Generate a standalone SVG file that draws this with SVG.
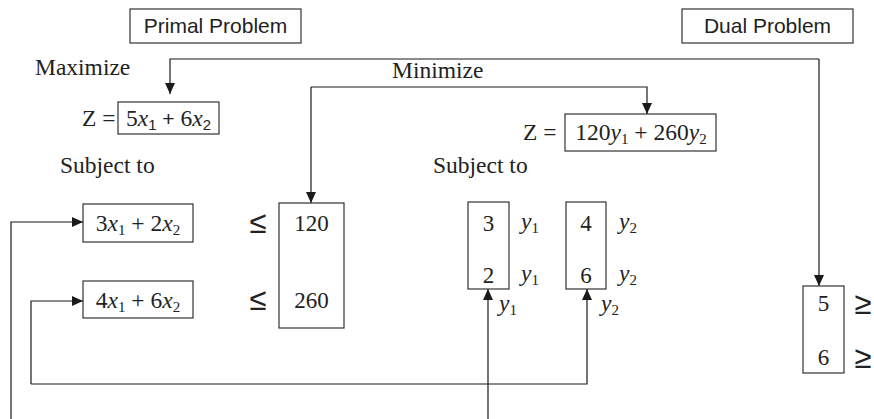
<svg xmlns="http://www.w3.org/2000/svg" width="874" height="419" viewBox="0 0 874 419">
<defs>
<marker id="ah" markerWidth="12" markerHeight="10" refX="11" refY="5" orient="auto" markerUnits="userSpaceOnUse">
<path d="M0,0 L11,5 L0,10 Z" fill="#1a1a1a"/>
</marker>
<style>
.box{fill:#fff;stroke:#333;stroke-width:1.2}
.ln{fill:none;stroke:#1a1a1a;stroke-width:1.2;marker-end:url(#ah)}
.sans{font-family:"Liberation Sans",Arial,sans-serif;font-size:21px;fill:#222}
.ser{font-family:"Liberation Serif","Times New Roman",serif;font-size:23.5px;fill:#222}
.num{font-family:"Liberation Serif","Times New Roman",serif;font-size:23px;fill:#222}
.it{font-style:italic}
.sub{font-size:15px}
.sym{font-family:"Liberation Sans",Arial,sans-serif;font-size:31px;fill:#222}
</style>
</defs>
<rect width="874" height="419" fill="#fff"/>

<g id="connectors">
<path class="ln" d="M819,59 H170 V94"/>
<path class="ln" d="M819,59 V286"/>
<path class="ln" d="M311,87 H647 V114"/>
<path class="ln" d="M311,87 V203"/>
<path class="ln" d="M11,419 V222 H83"/>
<path class="ln" d="M31,384 V301 H83"/>
<path class="ln" d="M31,384 H587 V289"/>
<path class="ln" d="M488,419 V289"/>
</g>

<g id="primal-title">
<rect class="box" x="130" y="9" width="171" height="34"/>
<text class="sans" x="215.5" y="33" text-anchor="middle">Primal Problem</text>
</g>
<g id="dual-title">
<rect class="box" x="682" y="9" width="171" height="34"/>
<text class="sans" x="767.5" y="33" text-anchor="middle">Dual Problem</text>
</g>

<g id="maximize">
<text class="ser" x="35" y="75">Maximize</text>
</g>
<g id="primal-objective">
<text class="ser" x="82" y="126" font-size="20">Z =</text>
<rect class="box" x="118" y="102" width="101" height="32"/>
<text class="ser" x="168.5" y="126" text-anchor="middle">5<tspan class="it">x</tspan><tspan class="sans sub" dy="4">1</tspan><tspan class="sans" font-size="21" dy="-4"> + </tspan>6<tspan class="it">x</tspan><tspan class="sans sub" dy="4">2</tspan></text>
</g>

<g id="minimize">
<text class="ser" x="392" y="78">Minimize</text>
</g>
<g id="dual-objective">
<text class="ser" x="523" y="140" font-size="20">Z =</text>
<rect class="box" x="565" y="114" width="151" height="37"/>
<text class="ser" x="641" y="140" text-anchor="middle">120<tspan class="it">y</tspan><tspan class="sub" dy="4">1</tspan><tspan dy="-4"> + 260</tspan><tspan class="it">y</tspan><tspan class="sub" dy="4">2</tspan></text>
</g>

<g id="subject-left">
<text class="ser" x="60" y="173">Subject to</text>
</g>
<g id="subject-right">
<text class="ser" x="433" y="173">Subject to</text>
</g>

<g id="constraint1">
<rect class="box" x="83" y="204" width="110" height="38"/>
<text class="ser" x="138" y="231" text-anchor="middle">3<tspan class="it">x</tspan><tspan class="sub" dy="4">1</tspan><tspan dy="-4"> + 2</tspan><tspan class="it">x</tspan><tspan class="sub" dy="4">2</tspan></text>
<text class="sym" x="258" y="233" text-anchor="middle">≤</text>
</g>
<g id="constraint2">
<rect class="box" x="83" y="281" width="110" height="37"/>
<text class="ser" x="138" y="308" text-anchor="middle">4<tspan class="it">x</tspan><tspan class="sub" dy="4">1</tspan><tspan dy="-4"> + 6</tspan><tspan class="it">x</tspan><tspan class="sub" dy="4">2</tspan></text>
<text class="sym" x="258" y="310" text-anchor="middle">≤</text>
</g>

<g id="rhs">
<rect class="box" x="279" y="203" width="65" height="125"/>
<text class="num" x="311.5" y="231" text-anchor="middle">120</text>
<text class="num" x="311.5" y="308" text-anchor="middle">260</text>
</g>

<g id="dual-col1">
<rect class="box" x="468" y="202" width="41" height="87"/>
<text class="num" x="488.5" y="231" text-anchor="middle">3</text>
<text class="num" x="488.5" y="283" text-anchor="middle">2</text>
<text class="ser it" x="521" y="229">y<tspan class="sub" dy="4" font-style="normal">1</tspan></text>
<text class="ser it" x="521" y="281">y<tspan class="sub" dy="4" font-style="normal">1</tspan></text>
<text class="ser it" x="499" y="311">y<tspan class="sub" dy="4" font-style="normal">1</tspan></text>
</g>
<g id="dual-col2">
<rect class="box" x="566" y="202" width="40" height="87"/>
<text class="num" x="586" y="231" text-anchor="middle">4</text>
<text class="num" x="586" y="283" text-anchor="middle">6</text>
<text class="ser it" x="619" y="229">y<tspan class="sub" dy="4" font-style="normal">2</tspan></text>
<text class="ser it" x="619" y="281">y<tspan class="sub" dy="4" font-style="normal">2</tspan></text>
<text class="ser it" x="601" y="311">y<tspan class="sub" dy="4" font-style="normal">2</tspan></text>
</g>

<g id="dual-rhs">
<rect class="box" x="803" y="286" width="41" height="87"/>
<text class="num" x="823.5" y="311" text-anchor="middle">5</text>
<text class="num" x="823.5" y="365" text-anchor="middle">6</text>
<text class="sym" x="863" y="314" text-anchor="middle">≥</text>
<text class="sym" x="863" y="368" text-anchor="middle">≥</text>
</g>
</svg>
